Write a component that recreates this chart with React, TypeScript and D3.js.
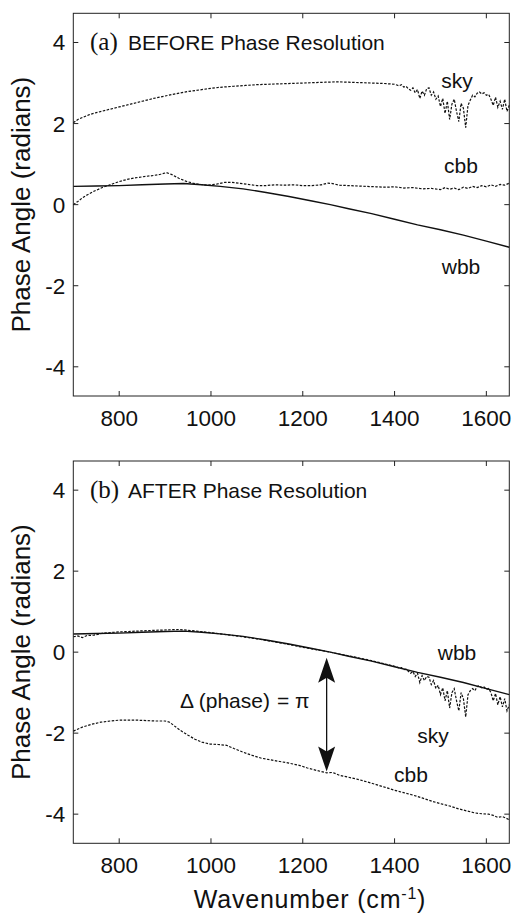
import React from "react";
import * as d3 from "d3";

// ---------- data ----------
const xTicks = [800, 1000, 1200, 1400, 1600];
const yTicks = [-4, -2, 0, 2, 4];
const xDomain: [number, number] = [700, 1650];
const yDomain: [number, number] = [-4.72, 4.72];

// (a) BEFORE phase resolution
const beforeSky: [number, number][] = [
  [700, 2.02], [710, 2.1], [720, 2.15], [735, 2.22], [750, 2.27], [775, 2.34], [800, 2.41], [825, 2.48],
  [850, 2.55], [875, 2.62], [900, 2.68], [925, 2.74], [950, 2.79], [975, 2.83], [1000, 2.87],
  [1025, 2.9], [1050, 2.92], [1075, 2.94], [1100, 2.96], [1125, 2.97], [1150, 2.98], [1175, 2.99],
  [1200, 3.0], [1225, 3.01], [1250, 3.02], [1275, 3.03], [1300, 3.02], [1325, 3.01], [1350, 3.0],
  [1375, 2.99], [1400, 2.97], [1405, 2.95], [1410, 2.93], [1415, 2.96], [1420, 2.9], [1425, 2.92],
  [1430, 2.86], [1435, 2.82], [1440, 2.88], [1445, 2.76], [1450, 2.84], [1455, 2.62], [1460, 2.8],
  [1465, 2.7], [1470, 2.86], [1475, 2.88], [1480, 2.7], [1485, 2.78], [1490, 2.6], [1495, 2.68],
  [1500, 2.42], [1505, 2.62], [1510, 2.25], [1515, 2.55], [1520, 2.1], [1525, 2.48], [1530, 2.6],
  [1535, 2.3], [1540, 2.05], [1545, 2.5], [1550, 2.38], [1555, 1.9], [1560, 2.45], [1565, 2.58],
  [1570, 2.7], [1575, 2.66], [1580, 2.75], [1585, 2.78], [1590, 2.73], [1595, 2.76], [1600, 2.7],
  [1605, 2.72], [1610, 2.6], [1615, 2.45], [1620, 2.65], [1625, 2.4], [1630, 2.55], [1635, 2.35],
  [1640, 2.6], [1645, 2.3], [1650, 2.45],
];
const beforeCbb: [number, number][] = [
  [700, 0.0], [710, 0.08], [720, 0.17], [730, 0.24], [745, 0.33], [765, 0.43], [785, 0.51], [800, 0.57],
  [820, 0.63], [840, 0.67], [860, 0.7], [875, 0.72], [890, 0.75], [903, 0.79], [915, 0.74], [930, 0.65],
  [945, 0.58], [960, 0.53], [975, 0.5], [990, 0.48], [1010, 0.5], [1030, 0.55], [1045, 0.55],
  [1060, 0.53], [1080, 0.5], [1100, 0.47], [1120, 0.47], [1140, 0.49], [1160, 0.48], [1180, 0.49],
  [1200, 0.47], [1220, 0.47], [1240, 0.49], [1255, 0.53], [1265, 0.52], [1280, 0.48], [1300, 0.47],
  [1320, 0.46], [1340, 0.45], [1360, 0.44], [1380, 0.43], [1400, 0.44], [1420, 0.41], [1440, 0.42],
  [1460, 0.39], [1480, 0.4], [1500, 0.37], [1510, 0.42], [1520, 0.38], [1530, 0.41], [1540, 0.37],
  [1550, 0.43], [1560, 0.4], [1570, 0.45], [1580, 0.42], [1590, 0.47], [1600, 0.44], [1610, 0.49],
  [1620, 0.45], [1630, 0.5], [1640, 0.48], [1650, 0.53],
];
const wbb: [number, number][] = [
  [700, 0.45], [750, 0.46], [800, 0.47], [850, 0.49], [900, 0.51], [940, 0.52], [980, 0.49],
  [1020, 0.45], [1070, 0.39], [1120, 0.3], [1170, 0.2], [1220, 0.09], [1260, 0.0], [1300, -0.1],
  [1350, -0.22], [1400, -0.36], [1450, -0.5], [1500, -0.62], [1550, -0.75], [1600, -0.9], [1650, -1.05],
];

// (b) AFTER phase resolution
const afterSky: [number, number][] = [
  [700, 0.38], [710, 0.4], [720, 0.36], [730, 0.41], [745, 0.42], [765, 0.47], [800, 0.5], [840, 0.52],
  [880, 0.54], [930, 0.56], [960, 0.53], [1000, 0.48], [1050, 0.41], [1100, 0.33], [1150, 0.23],
  [1200, 0.12], [1250, 0.02], [1300, -0.09], [1350, -0.21], [1400, -0.35], [1405, -0.37], [1410, -0.39],
  [1415, -0.38], [1420, -0.43], [1425, -0.42], [1430, -0.47], [1435, -0.52], [1440, -0.48], [1445, -0.6],
  [1450, -0.52], [1455, -0.75], [1460, -0.58], [1465, -0.7], [1470, -0.6], [1475, -0.62], [1480, -0.8],
  [1485, -0.7], [1490, -0.9], [1495, -0.82], [1500, -1.05], [1505, -0.88], [1510, -1.2], [1515, -0.95],
  [1520, -1.38], [1525, -1.0], [1530, -0.9], [1535, -1.2], [1540, -1.45], [1545, -1.0], [1550, -1.15],
  [1555, -1.6], [1560, -1.05], [1565, -0.95], [1570, -0.9], [1575, -0.95], [1580, -0.85], [1585, -0.83],
  [1590, -0.88], [1595, -0.86], [1600, -0.92], [1605, -0.9], [1610, -1.0], [1615, -1.2], [1620, -1.02],
  [1625, -1.3], [1630, -1.1], [1635, -1.35], [1640, -1.15], [1645, -1.45], [1650, -1.3],
];
const afterCbb: [number, number][] = [
  [700, -1.95], [720, -1.85], [740, -1.78], [760, -1.73], [780, -1.7], [800, -1.68], [820, -1.68],
  [840, -1.68], [860, -1.69], [880, -1.7], [900, -1.7], [910, -1.73], [920, -1.82], [933, -1.93],
  [950, -2.05], [965, -2.15], [980, -2.22], [998, -2.27], [1015, -2.28], [1034, -2.3], [1050, -2.38],
  [1070, -2.47], [1090, -2.55], [1110, -2.62], [1130, -2.66], [1150, -2.7], [1170, -2.74], [1194, -2.8],
  [1210, -2.86], [1230, -2.92], [1252, -2.98], [1265, -2.97], [1280, -3.04], [1300, -3.09], [1320, -3.14],
  [1339, -3.2], [1360, -3.27], [1380, -3.34], [1400, -3.41], [1420, -3.47], [1440, -3.53], [1460, -3.6],
  [1484, -3.69], [1500, -3.74], [1520, -3.8], [1540, -3.87], [1557, -3.92], [1575, -3.97], [1590, -3.99],
  [1605, -4.0], [1615, -4.03], [1625, -4.08], [1635, -4.06], [1643, -4.1], [1650, -4.14],
];

// annotation: Δ(phase) arrow
const arrowX = 1252;
const arrowTop = -0.14;
const arrowBottom = -2.95;

const sans = "'Liberation Sans', Arial, Helvetica, sans-serif";
const serif = "'Liberation Serif', 'Times New Roman', serif";

const W = 514;
const H = 916;
const left = 73.3;
const right = 509.3;

function Panel(props: {
  top: number;
  bottom: number;
  letter: string;
  title: string;
  sky: [number, number][];
  cbb: [number, number][];
  wbb: [number, number][];
  labels: { sky: [number, number]; cbb: [number, number]; wbb: [number, number] };
  children?: (x: d3.ScaleLinear<number, number>, y: d3.ScaleLinear<number, number>) => React.ReactNode;
}) {
  const { top, bottom } = props;
  const x = d3.scaleLinear().domain(xDomain).range([left, right]);
  const y = d3.scaleLinear().domain(yDomain).range([bottom, top]);
  const line = d3
    .line<[number, number]>()
    .x((d) => x(d[0]))
    .y((d) => y(d[1]));
  const tl = 5;
  const fs = 21;
  const tfs = 22.5;
  return (
    <g>
      <defs>
        <clipPath id={"clip" + props.letter}>
          <rect x={left} y={top} width={right - left} height={bottom - top} />
        </clipPath>
      </defs>
      <g clipPath={`url(#clip${props.letter})`}>
        <path d={line(props.wbb) || ""} fill="none" stroke="#111" strokeWidth={1.4} />
        <path d={line(props.sky) || ""} fill="none" stroke="#111" strokeWidth={1.2} strokeDasharray="2.5,1.5" />
        <path d={line(props.cbb) || ""} fill="none" stroke="#111" strokeWidth={1.2} strokeDasharray="2.5,1.5" />
      </g>
      <rect x={left} y={top} width={right - left} height={bottom - top} fill="none" stroke="#222" strokeWidth={1} />
      {xTicks.map((t) => (
        <g key={"x" + t}>
          <line x1={x(t)} x2={x(t)} y1={bottom} y2={bottom - tl} stroke="#222" />
          <line x1={x(t)} x2={x(t)} y1={top} y2={top + tl} stroke="#222" />
          <text x={x(t)} y={bottom + 30} textAnchor="middle" fontFamily={sans} fontSize={tfs} fill="#111">
            {t}
          </text>
        </g>
      ))}
      {yTicks.map((t) => (
        <g key={"y" + t}>
          <line x1={left} x2={left + tl} y1={y(t)} y2={y(t)} stroke="#222" />
          <line x1={right} x2={right - tl} y1={y(t)} y2={y(t)} stroke="#222" />
          <text x={left - 8} y={y(t) + 8} textAnchor="end" fontFamily={sans} fontSize={tfs} fill="#111">
            {t}
          </text>
        </g>
      ))}
      <text x={90} y={y(4) + 7.5} fontFamily={serif} fontSize={25} fill="#111">
        {props.letter}
      </text>
      <text x={128} y={y(4) + 7.5} fontFamily={sans} fontSize={fs} fill="#111">
        {props.title}
      </text>
      {(["sky", "cbb", "wbb"] as const).map((k) => (
        <text
          key={k}
          x={props.labels[k][0]}
          y={props.labels[k][1]}
          textAnchor="middle"
          fontFamily={sans}
          fontSize={fs}
          fill="#111"
        >
          {k}
        </text>
      ))}
      <text
        transform={`translate(21,${(top + bottom) / 2}) rotate(-90)`}
        textAnchor="middle"
        dy="0.35em"
        fontFamily={sans}
        fontSize={26}
        fill="#111"
      >
        Phase Angle (radians)
      </text>
      {props.children ? props.children(x, y) : null}
    </g>
  );
}

export default function App() {
  return (
    <svg
      width={W}
      height={H}
      viewBox={`0 0 ${W} ${H}`}
      style={{ position: "absolute", left: 0, top: 0, background: "#fff" }}
    >
      <rect x={0} y={0} width={W} height={H} fill="#fff" />
      <Panel
        top={13.3}
        bottom={396}
        letter="(a)"
        title="BEFORE Phase Resolution"
        sky={beforeSky}
        cbb={beforeCbb}
        wbb={wbb}
        labels={{ sky: [457, 88], cbb: [461, 173], wbb: [461, 274] }}
      />
      <Panel
        top={461}
        bottom={843.3}
        letter="(b)"
        title="AFTER Phase Resolution"
        sky={afterSky}
        cbb={afterCbb}
        wbb={wbb}
        labels={{ sky: [433, 743], cbb: [411, 782], wbb: [457, 660] }}
      >
        {(x, y) => {
          const ax = x(arrowX);
          const yt = y(arrowTop);
          const yb = y(arrowBottom);
          const hl = 25;
          const hw = 8.5;
          return (
            <g>
              <line x1={ax} x2={ax} y1={yt + 18} y2={yb - 18} stroke="#111" strokeWidth={1.3} />
              <path
                d={`M${ax},${yt} L${ax - hw},${yt + hl} L${ax},${yt + hl - 5} L${ax + hw},${yt + hl} Z`}
                fill="#111"
              />
              <path
                d={`M${ax},${yb} L${ax - hw},${yb - hl} L${ax},${yb - hl + 5} L${ax + hw},${yb - hl} Z`}
                fill="#111"
              />
              <text x={180} y={708} fontFamily={sans} fontSize={21} fill="#111">
                Δ (phase)
              </text>
              <text x={277} y={708} fontFamily={sans} fontSize={21} fill="#111">
                = π
              </text>
            </g>
          );
        }}
      </Panel>
      <text
        x={310}
        y={908}
        textAnchor="middle"
        fontFamily={sans}
        fontSize={25}
        letterSpacing={0.8}
        fill="#111"
      >
        Wavenumber (cm
        <tspan dy={-9} fontSize={16}>
          -1
        </tspan>
        <tspan dy={9}>)</tspan>
      </text>
    </svg>
  );
}
